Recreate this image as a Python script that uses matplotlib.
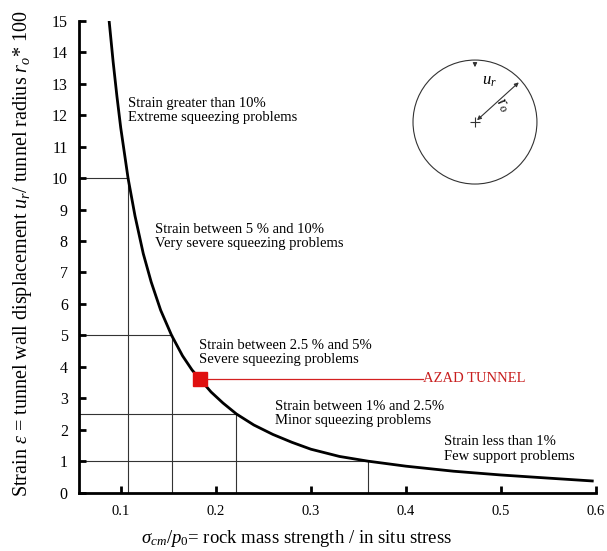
import matplotlib
matplotlib.use("Agg")
import matplotlib.pyplot as plt
from matplotlib.patches import Circle, FancyArrowPatch

plt.rcParams['font.family'] = ['Liberation Serif', 'DejaVu Serif']
plt.rcParams['mathtext.fontset'] = 'custom'
plt.rcParams['mathtext.rm'] = 'Liberation Serif'
plt.rcParams['mathtext.it'] = 'Liberation Serif:italic'

# Curve
ratio = [0.0878, 0.092, 0.096, 0.100, 0.1077, 0.115, 0.1237, 0.132, 0.142,
         0.1535, 0.165, 0.175, 0.183, 0.195, 0.2075, 0.2217, 0.24, 0.26,
         0.28, 0.30, 0.33, 0.36, 0.40, 0.45, 0.50, 0.55, 0.596]
strain = [15.0, 13.7, 12.6, 11.6, 10.0, 8.8, 7.6, 6.7, 5.8,
          5.0, 4.35, 3.9, 3.62, 3.2, 2.85, 2.5, 2.15, 1.85,
          1.6, 1.38, 1.15, 1.0, 0.84, 0.68, 0.56, 0.46, 0.37]

# Class limits (strain %, ratio where curve crosses)
limit_strain = [10, 5, 2.5, 1]
limit_ratio = [0.1077, 0.1535, 0.2217, 0.36]

# Azad tunnel
azad_ratio = 0.183
azad_strain = 3.62
azad_label_x = 0.418

zone_texts = [
    ("Strain greater than 10%\nExtreme squeezing problems", 0.1077, 12.15),
    ("Strain between 5 % and 10%\nVery severe squeezing problems", 0.136, 8.14),
    ("Strain between 2.5 % and 5%\nSevere squeezing problems", 0.182, 4.46),
    ("Strain between 1% and 2.5%\nMinor squeezing problems", 0.262, 2.51),
    ("Strain less than 1%\nFew support problems", 0.440, 1.39),
]

xticks = [0.1, 0.2, 0.3, 0.4, 0.5, 0.6]
xticklabels = ["0.1", "0.2", "0.3", "0.4", "0.5", "0.6"]
yticks = list(range(0, 16))

fig = plt.figure(figsize=(6.07, 5.51), dpi=100)
ax = fig.add_axes([0.130, 0.106, 0.852, 0.856])
ax.set_xlim(0.056, 0.6)
ax.set_ylim(0, 15)

# class limit lines
for s, r in zip(limit_strain, limit_ratio):
    ax.plot([0.056, r], [s, s], color='#333333', lw=0.8, zorder=1)
    ax.plot([r, r], [0, s], color='#333333', lw=0.8, zorder=1)

ax.plot(ratio, strain, color='black', lw=2.0, zorder=3, solid_joinstyle='round')

ax.plot([azad_ratio, azad_label_x], [azad_strain, azad_strain], color='#d42020', lw=0.9, zorder=2)
ax.plot([azad_ratio], [azad_strain], marker='s', ms=10, color='#e01010', zorder=4)
ax.text(azad_label_x, azad_strain, "AZAD TUNNEL", color='#c81e1e', fontsize=10.5,
        va='center', ha='left')

for t, x, y in zone_texts:
    ax.text(x, y, t, fontsize=10.5, va='center', ha='left', linespacing=1.15)

ax.set_xticks(xticks)
ax.set_xticklabels(xticklabels)
ax.set_yticks(yticks)
ax.tick_params(direction='in', length=5, width=2, labelsize=11.5, pad=8)
ax.tick_params(axis='x', labelsize=10.5, pad=9)
for sp in ['top', 'right']:
    ax.spines[sp].set_visible(False)
for sp in ['left', 'bottom']:
    ax.spines[sp].set_linewidth(2)

ax.set_xlabel(r"$\sigma_{cm}/p_0$= rock mass strength / in situ stress", fontsize=13.5, labelpad=9)
ax.xaxis.set_label_coords(0.42, -0.075)
ax.set_ylabel(r"Strain $\varepsilon$ = tunnel wall displacement $u_r$/ tunnel radius $r_o$* 100",
              fontsize=14.5, labelpad=10)
ax.yaxis.set_label_coords(-0.087, 0.506)

# inset tunnel sketch
iax = fig.add_axes([0.660, 0.6435, 0.245, 0.270])
iax.set_xlim(-1.2, 1.2)
iax.set_ylim(-1.2, 1.2)
iax.axis('off')
iax.add_patch(Circle((0, 0), 1.0, fill=False, lw=0.8, color='#333333'))
iax.plot([0], [0], marker='+', ms=7, color='#333333', mew=0.8)
iax.add_patch(FancyArrowPatch((0, 1.0), (0, 0.84), arrowstyle='-|>', mutation_scale=6,
                              lw=0.8, color='#333333'))
iax.add_patch(FancyArrowPatch((0, 0), (0.74, 0.67), arrowstyle='<|-|>', mutation_scale=6,
                              lw=0.8, color='#333333'))
iax.text(0.12, 0.66, r"$u_r$", fontsize=12, ha='left', va='center')
iax.text(0.45, 0.28, r"$r_o$", fontsize=12, ha='center', va='center', rotation=-55)

fig.savefig("out.png", dpi=100)
